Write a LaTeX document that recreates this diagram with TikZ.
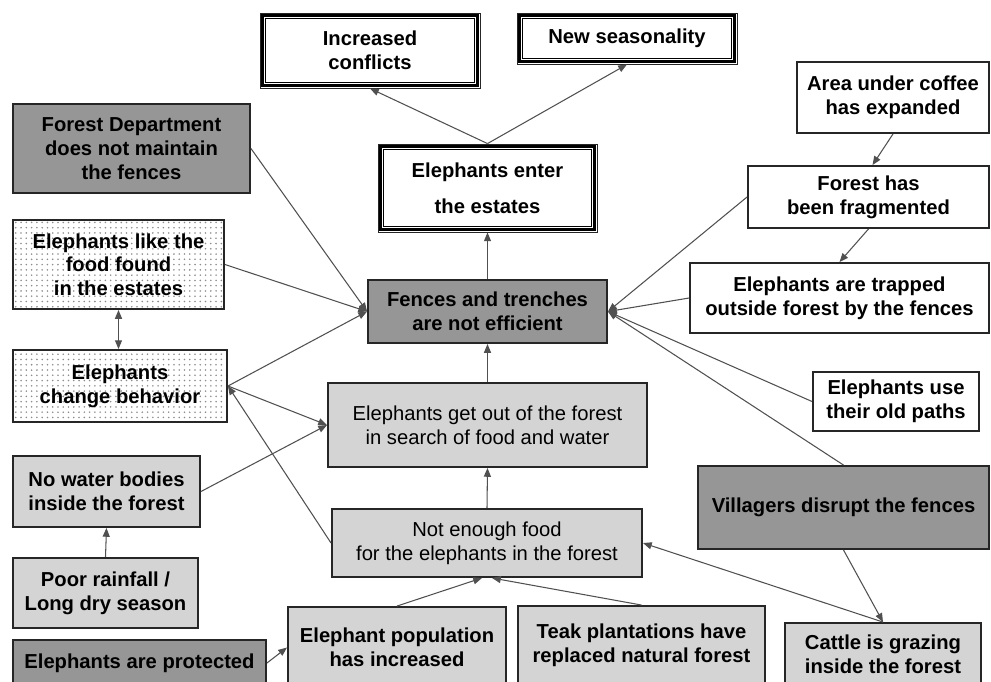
\documentclass[tikz,border=0pt]{standalone}
\usepackage{fontspec}
\setmainfont{Liberation Sans}
\usepackage{tikz}
\usetikzlibrary{arrows.meta}
\usetikzlibrary{patterns}
\definecolor{darkgrey}{RGB}{150,150,150}
\definecolor{lightgrey}{RGB}{212,212,212}
\definecolor{linegrey}{RGB}{80,80,80}

\tikzset{
	cbox/.style={draw=black!85,line width=1.1pt,align=center,inner sep=2pt,font=\fontsize{11.5}{13.5}\selectfont\bfseries},
	sz/.style 2 args={minimum width=#1*0.02cm,minimum height=#2*0.02cm},
	regular/.style={font=\fontsize{11.5}{13.5}\selectfont},
	darkbox/.style={cbox,fill=darkgrey},
	lightbox/.style={cbox,fill=lightgrey},
	plainbox/.style={cbox,fill=white},
	dotbox/.style={cbox,pattern=dots,pattern color=black!45},
	framebox/.style={cbox,fill=white,line width=.5pt},
	link/.style={draw=linegrey,line width=.6pt,-{Triangle[length=5pt,width=4pt]}}
}

\begin{document}
\begin{tikzpicture}[x=0.02cm,y=-0.02cm]
	
	\useasboundingbox (0,0) rectangle (991,681);
	\clip (0,0) rectangle (991,681);
	
	% consequences on top
	\node[framebox,sz={220}{75}] (conf) at (370,50.5) {Increased\\conflicts};
	\node[framebox,sz={220}{51}] (seas) at (627,38.5) {New seasonality};
	\node[framebox,sz={219}{88}] (enter) at (487.5,188) {Elephants enter\\[7pt]the estates};
	
	\foreach \n in {conf,seas,enter}{
		\draw[line width=1.5pt] ([shift={(3,3)}]\n.north west) rectangle ([shift={(-3,-3)}]\n.south east);
		\draw[line width=.6pt] ([shift={(6,6)}]\n.north west) rectangle ([shift={(-6,-6)}]\n.south east);
	}
	
	% central chain
	\node[darkbox,sz={239}{63}] (fences) at (487.5,311.5) {Fences and trenches\\are not efficient};
	\node[lightbox,regular,sz={319}{84}] (out) at (487.5,425) {Elephants get out of the forest\\in search of food and water};
	\node[lightbox,regular,sz={310}{68}] (notfood) at (487,543) {Not enough food\\for the elephants in the forest};
	
	% left column
	\node[darkbox,sz={237}{89}] (fd) at (131.5,148.5) {Forest Department\\does not maintain\\the fences};
	\node[dotbox,sz={211}{89}] (food) at (118.5,264.5) {Elephants like the\\food found\\in the estates};
	\node[dotbox,sz={214}{72}] (behav) at (120,386) {Elephants\\change behavior};
	\node[lightbox,sz={187}{71}] (water) at (106.5,491.5) {No water bodies\\inside the forest};
	\node[lightbox,sz={185}{70}] (rain) at (105.5,593) {Poor rainfall /\\Long dry season};
	
	% right column
	\node[plainbox,sz={192}{71}] (coffee) at (893,97.5) {Area under coffee\\has expanded};
	\node[plainbox,sz={241}{62}] (frag) at (868.5,197) {Forest has\\been fragmented};
	\node[plainbox,sz={299}{70}] (trap) at (839.5,298) {Elephants are trapped\\outside forest by the fences};
	\node[plainbox,sz={166}{59}] (paths) at (896,401.5) {Elephants use\\their old paths};
	\node[darkbox,sz={291}{83}] (vill) at (843.5,507.5) {Villagers disrupt the fences};
	
	% bottom row
	\node[darkbox,sz={253}{46}] (prot) at (139.5,663) {Elephants are protected};
	\node[lightbox,sz={218}{81}] (pop) at (397,647.5) {Elephant population\\has increased};
	\node[lightbox,sz={247}{78}] (teak) at (641.5,645) {Teak plantations have\\replaced natural forest};
	\node[lightbox,sz={196}{63}] (cattle) at (883,654.5) {Cattle is grazing\\inside the forest};
	
	% links
	\draw[link] (enter.north) -- (conf.south);
	\draw[link] (enter.north) -- (seas.south);
	\draw[link] (fences.north) -- (enter.south);
	\draw[link] (out.north) -- (fences.south);
	\draw[link] (notfood.north) -- (out.south);
	
	\draw[link] (fd.east) -- (fences.west);
	\draw[link] (food.east) -- (fences.west);
	\draw[link] (behav.east) -- (fences.west);
	\draw[link,{Triangle[length=5pt,width=4pt]}-{Triangle[length=5pt,width=4pt]}] (food.south) -- (food.south |- behav.north);
	\draw[link] (behav.east) -- (out.west);
	\draw[link] (water.east) -- (out.west);
	\draw[link] (notfood.west) -- (behav.east);
	\draw[link] (rain.north) -- (water.south);
	
	\draw[link] (frag.west) -- (fences.east);
	\draw[link] (trap.west) -- (fences.east);
	\draw[link] (paths.west) -- (fences.east);
	\draw[link] (vill.north) -- (fences.east);
	\draw[link] (coffee.south) -- ([xshift=0.08cm]frag.north);
	\draw[link] (frag.south) -- (trap.north);
	
	\draw[link] (prot.east) -- (pop.west);
	\draw[link] (pop.north) -- ([xshift=-0.1cm]notfood.south);
	\draw[link] (teak.north) -- ([xshift=0.1cm]notfood.south);
	\draw[link] (vill.south) -- (cattle.north);
	\draw[link] (cattle.north) -- (notfood.east);
	
\end{tikzpicture}
\end{document}
